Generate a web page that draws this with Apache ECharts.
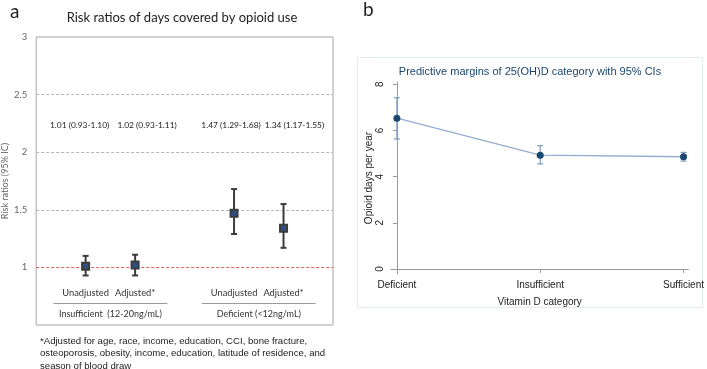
<!DOCTYPE html>
<html><head><meta charset="utf-8">
<script src="https://cdn.jsdelivr.net/npm/echarts@6/dist/echarts.min.js"></script>
<style>html,body{margin:0;padding:0;background:#fff}#c{width:707px;height:369px}</style>
</head><body><div id="c"></div>
<script>
// ---- Panel a data ----
const aLabels = ['Unadjusted', 'Adjusted*', 'Unadjusted', 'Adjusted*'];
const aPositions = [1, 2, 4, 5];
const rrEstimate = [1.01, 1.02, 1.47, 1.34];
const rrLower = [0.93, 0.93, 1.29, 1.17];
const rrUpper = [1.10, 1.11, 1.68, 1.55];
const aGroups = ['Insufficient  (12-20ng/mL)', 'Deficient (<12ng/mL)'];
const aGroupMembers = [[1, 2], [4, 5]];
const aYTicks = [1, 1.5, 2, 2.5, 3];
const aGridLines = [1.5, 2, 2.5];
const aReference = 1;
const aTextRowValue = 2.23;
// ---- Panel b data ----
const vitCategories = ['Deficient', 'Insufficient', 'Sufficient'];
const opMean = [6.53, 4.93, 4.86];
const opLower = [5.63, 4.55, 4.67];
const opUpper = [7.42, 5.34, 5.05];
const bYTicks = [0, 2, 4, 6, 8];

// style-only: horizontal nudges of the estimate text row (px)
const textNudge = [-6, 12, -3, 11];

const calib = 'Lato, "Noto Sans", sans-serif';
const arial = '"Liberation Sans", Arial, sans-serif';

function errBar(capHalf, color, lw) {
  return function (params, api) {
    const x = api.value(0), lo = api.value(1), hi = api.value(2);
    const p1 = api.coord([x, lo]), p2 = api.coord([x, hi]);
    const st = { stroke: color, lineWidth: lw };
    return { type: 'group', children: [
      { type: 'line', shape: { x1: p1[0], y1: p1[1], x2: p2[0], y2: p2[1] }, style: st },
      { type: 'line', shape: { x1: p1[0] - capHalf, y1: p1[1], x2: p1[0] + capHalf, y2: p1[1] }, style: st },
      { type: 'line', shape: { x1: p2[0] - capHalf, y1: p2[1], x2: p2[0] + capHalf, y2: p2[1] }, style: st }
    ]};
  };
}
const fmt = v => v.toFixed(2);

const chart = echarts.init(document.getElementById('c'), null, { renderer: 'canvas' });
const option = {
  animation: false,
  backgroundColor: '#fff',
  grid: [
    { left: 31, top: 37, width: 302, height: 288, show: true, borderColor: '#a6a6a6', borderWidth: 1, backgroundColor: '#fff' },
    { left: 391, right: 13, top: 82, bottom: 95 }
  ],
  xAxis: [
    { gridIndex: 0, type: 'value', min: 0, max: 6,
      axisLine: { show: false }, axisTick: { show: false }, splitLine: { show: false },
      axisLabel: { inside: true, margin: 28, customValues: aPositions, color: '#333', fontSize: 9.3, fontFamily: calib,
        formatter: v => aLabels[aPositions.indexOf(v)] } },
    { gridIndex: 1, type: 'value', min: -0.041, max: 2.034,
      axisLine: { show: true, lineStyle: { color: '#9a9a9a', width: 1 } },
      axisTick: { show: true, customValues: [0, 1, 2], length: 4, lineStyle: { color: '#9a9a9a' } },
      axisLabel: { customValues: [0, 1, 2], formatter: v => vitCategories[Math.round(v)], color: '#222', fontSize: 10, fontFamily: arial, margin: 6 },
      splitLine: { show: false },
      name: 'Vitamin D category', nameLocation: 'middle', nameGap: 23,
      nameTextStyle: { color: '#222', fontSize: 10, fontFamily: arial } }
  ],
  yAxis: [
    { gridIndex: 0, type: 'value', min: 0.5, max: 3, interval: 0.5,
      axisLine: { show: false }, axisTick: { show: false },
      axisLabel: { color: '#666', fontSize: 9.5, fontFamily: calib, margin: 9,
        formatter: v => (aYTicks.indexOf(v) >= 0 ? String(v) : '') },
      splitLine: { show: false },
      name: 'Risk ratios (95% IC)', nameLocation: 'middle', nameGap: 22,
      nameTextStyle: { color: '#666', fontSize: 9, fontFamily: calib } },
    { gridIndex: 1, type: 'value', min: -0.22, max: 8.1,
      axisLine: { show: true, lineStyle: { color: '#9a9a9a', width: 1 } },
      axisTick: { show: true, customValues: bYTicks, length: 4, lineStyle: { color: '#9a9a9a' } },
      axisLabel: { customValues: bYTicks, rotate: 90, color: '#222', fontSize: 10, fontFamily: arial, margin: 6 },
      splitLine: { show: false },
      name: 'Opioid days per year', nameLocation: 'middle', nameGap: 16,
      nameTextStyle: { color: '#222', fontSize: 10, fontFamily: arial } }
  ],
  series: [
    { type: 'custom', xAxisIndex: 0, yAxisIndex: 0, z: 3,
      renderItem: errBar(3, '#3c3c3c', 2),
      data: aPositions.map((p, i) => [p, rrLower[i], rrUpper[i]]) },
    { type: 'scatter', xAxisIndex: 0, yAxisIndex: 0, z: 4, symbol: 'rect', symbolSize: 7,
      itemStyle: { color: '#2f4f86', borderColor: '#3c3c3c', borderWidth: 2, opacity: 1 },
      data: aPositions.map((p, i) => [p, rrEstimate[i]]),
      markLine: { silent: true, symbol: 'none', label: { show: false }, emphasis: { disabled: true }, z: 1,
        lineStyle: { color: '#b5b5b5', type: [3, 2], width: 1 },
        data: aGridLines.map(v => ({ yAxis: v })) } },
    { type: 'custom', xAxisIndex: 0, yAxisIndex: 0, silent: true, z: 5,
      renderItem: function (params, api) {
        const i = params.dataIndex;
        const c = api.coord([api.value(0), api.value(1)]);
        return { type: 'text', x: c[0] + textNudge[i], y: c[1],
          style: { text: `${fmt(rrEstimate[i])} (${fmt(rrLower[i])}-${fmt(rrUpper[i])})`, fill: '#222', fontSize: 8.4, fontFamily: calib, align: 'center', verticalAlign: 'middle' } };
      },
      data: aPositions.map((p) => [p, aTextRowValue]) },
    { type: 'custom', xAxisIndex: 1, yAxisIndex: 1, z: 3,
      renderItem: errBar(3, '#7d9cc0', 1.2),
      data: vitCategories.map((c, i) => [i, opLower[i], opUpper[i]]) },
    { type: 'line', xAxisIndex: 1, yAxisIndex: 1, z: 4, symbol: 'circle', symbolSize: 7,
      lineStyle: { color: '#92aecd', width: 1.3 },
      itemStyle: { color: '#1a476f' },
      data: vitCategories.map((c, i) => [i, opMean[i]]) }
  ],
  graphic: []
};
chart.setOption(option);

const g = [];
// red reference line at RR = 1, positioned through the axis scale
const refY = Math.round(chart.convertToPixel({ yAxisIndex: 0 }, aReference)) + 0.5;
const xL = chart.convertToPixel({ xAxisIndex: 0 }, 0);
const xR = chart.convertToPixel({ xAxisIndex: 0 }, 6);
g.push({ type: 'line', z: 2, shape: { x1: xL, y1: refY, x2: xR, y2: refY }, style: { stroke: '#e8605c', lineWidth: 1.2, lineDash: [3, 2] } });
g.push({ type: 'text', left: 10, top: 2, style: { text: 'a', fontSize: 19, fontFamily: calib, fill: '#222' } });
g.push({ type: 'text', left: 363, top: 0, style: { text: 'b', fontSize: 19, fontFamily: calib, fill: '#222' } });
g.push({ type: 'text', x: 182, y: 18, style: { text: 'Risk ratios of days covered by opioid use', fontSize: 13, fontFamily: calib, fill: '#222', textAlign: 'center', textVerticalAlign: 'middle' } });
const sepY = 303.5, grpY = 314;
aGroupMembers.forEach((m, i) => {
  const pa = chart.convertToPixel({ xAxisIndex: 0 }, m[0] - 0.65);
  const pb = chart.convertToPixel({ xAxisIndex: 0 }, m[1] + 0.65);
  g.push({ type: 'line', shape: { x1: pa, y1: sepY, x2: pb, y2: sepY }, style: { stroke: '#9a9a9a', lineWidth: 1 } });
  g.push({ type: 'text', x: (pa + pb) / 2, y: grpY, style: { text: aGroups[i], fontSize: 9, fontFamily: calib, fill: '#333', textAlign: 'center', textVerticalAlign: 'middle' } });
});
g.push({ type: 'text', left: 40, top: 335, style: { text: '*Adjusted for age, race, income, education, CCI, bone fracture,\nosteoporosis, obesity, income, education, latitude of residence, and\nseason of blood draw', fontSize: 9.6, lineHeight: 12.5, fontFamily: arial, fill: '#222' } });
g.push({ type: 'rect', z: -10, shape: { x: 357.5, y: 57.5, width: 345, height: 250 }, style: { fill: '#fff', stroke: '#e3ecef', lineWidth: 1 } });
g.push({ type: 'text', x: 530, y: 72, style: { text: 'Predictive margins of 25(OH)D category with 95% CIs', fontSize: 11, fontFamily: arial, fill: '#1a476f', textAlign: 'center', textVerticalAlign: 'middle' } });
chart.setOption({ graphic: g });
</script></body></html>
